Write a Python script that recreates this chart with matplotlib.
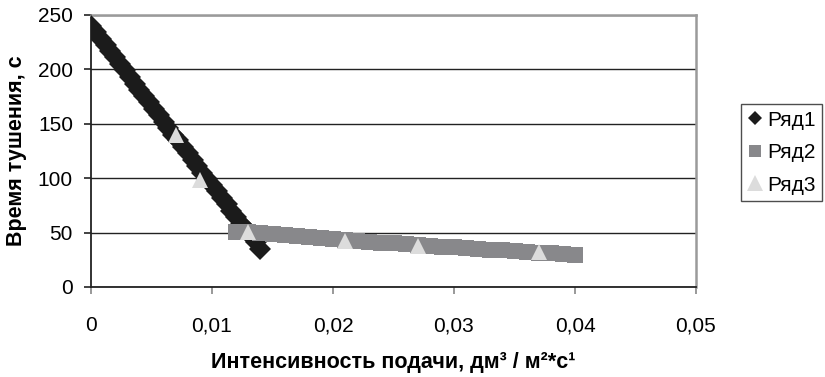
import matplotlib
matplotlib.use("Agg")
import matplotlib.pyplot as plt
from matplotlib.lines import Line2D
from matplotlib.ticker import FuncFormatter

plt.rcParams['font.family'] = ['Liberation Sans', 'DejaVu Sans']

# Ряд1: steep decline at low intensity
x1 = [0.0000, 0.0004, 0.0008, 0.0012, 0.0016, 0.0020, 0.0024, 0.0028, 0.0032,
      0.0036, 0.0040, 0.0044, 0.0048, 0.0052, 0.0056, 0.0060, 0.0064, 0.0068,
      0.0072, 0.0076, 0.0080, 0.0084, 0.0088, 0.0092, 0.0096, 0.0100, 0.0104,
      0.0108, 0.0112, 0.0116, 0.0120, 0.0124, 0.0128, 0.0132, 0.0136, 0.0140]
y1 = [240, 234, 228, 222, 217, 211, 205, 199, 193, 187, 181, 176, 170, 164,
      158, 152, 146, 140, 135, 129, 123, 117, 111, 105, 99, 94, 88, 82, 76,
      70, 64, 58, 53, 47, 41, 35]

# Ряд2: slow decline at higher intensity
x2 = [0.012, 0.013, 0.014, 0.015, 0.016, 0.017, 0.018, 0.019, 0.020, 0.021,
      0.022, 0.023, 0.024, 0.025, 0.026, 0.027, 0.028, 0.029, 0.030, 0.031,
      0.032, 0.033, 0.034, 0.035, 0.036, 0.037, 0.038, 0.039, 0.040]
y2 = [51.0, 50.2, 49.3, 48.4, 47.5, 46.7, 45.8, 45.0, 44.1, 43.3, 42.5, 41.7,
      40.9, 40.1, 39.4, 38.6, 37.9, 37.2, 36.5, 35.8, 35.1, 34.4, 33.7, 33.0,
      32.3, 31.6, 30.8, 30.1, 29.2]

# Ряд3: measured points
x3 = [0.007, 0.009, 0.013, 0.021, 0.027, 0.037]
y3 = [140, 98, 51, 42, 38, 32]

series_names = ["Ряд1", "Ряд2", "Ряд3"]
x_ticks = [0, 0.01, 0.02, 0.03, 0.04, 0.05]
y_ticks = [0, 50, 100, 150, 200, 250]

c1, c2, c3 = "#1b1b1b", "#88888b", "#dcdcdc"

fig = plt.figure(figsize=(8.25, 3.77), dpi=100)
ax = fig.add_axes([91 / 825, 1 - 287 / 377, (696 - 91) / 825, (287 - 15) / 377])

ax.plot(x1, y1, linestyle="none", marker="D", markersize=11.5, color=c1,
        markeredgewidth=0, zorder=3)
ax.plot(x2, y2, linestyle="none", marker="s", markersize=12, color=c2,
        markeredgewidth=0, zorder=4)
ax.plot(x3, y3, linestyle="none", marker="^", markersize=11.5, color=c3,
        markeredgewidth=0, zorder=5)

ax.set_xlim(0, 0.05)
ax.set_ylim(0, 250)
ax.set_xticks(x_ticks)
ax.set_yticks(y_ticks)
ax.xaxis.set_major_formatter(FuncFormatter(
    lambda v, p: "0" if v == 0 else f"{v:.2f}".replace(".", ",")))
ax.yaxis.set_major_formatter(FuncFormatter(lambda v, p: f"{v:.0f}"))

ax.grid(axis="y", color="#222222", linewidth=1.0)
ax.set_axisbelow(True)

for side in ("top", "right"):
    ax.spines[side].set_color("#9a9a9a")
    ax.spines[side].set_linewidth(1.8)
for side in ("left", "bottom"):
    ax.spines[side].set_color("#222222")
    ax.spines[side].set_linewidth(1.3)

ax.tick_params(axis="y", direction="out", length=5, width=1.2, color="#222222",
               labelsize=15, pad=8)
ax.tick_params(axis="x", direction="out", length=5, width=1.2, color="#888888",
               labelsize=15, pad=16)

ax.set_xlabel("Интенсивность подачи, дм³ / м²*с¹", fontsize=15.5,
              fontweight="bold", labelpad=12)
ax.set_ylabel("Время тушения, с", fontsize=15.5, fontweight="bold", labelpad=8)

handles = [
    Line2D([], [], linestyle="none", marker="D", markersize=7.5, color=c1,
           markeredgewidth=0),
    Line2D([], [], linestyle="none", marker="s", markersize=8, color=c2,
           markeredgewidth=0),
    Line2D([], [], linestyle="none", marker="^", markersize=11, color=c3,
           markeredgewidth=0),
]
leg = fig.legend(handles, series_names, loc="lower left",
                 bbox_to_anchor=(741 / 825, 1 - 201 / 377), frameon=True,
                 fontsize=15, handlelength=0.7, handletextpad=0.25,
                 borderpad=0.3, labelspacing=0.65, borderaxespad=0,
                 fancybox=False)
leg.get_frame().set_edgecolor("#222222")
leg.get_frame().set_linewidth(1.0)

fig.savefig("out.png", dpi=100)
